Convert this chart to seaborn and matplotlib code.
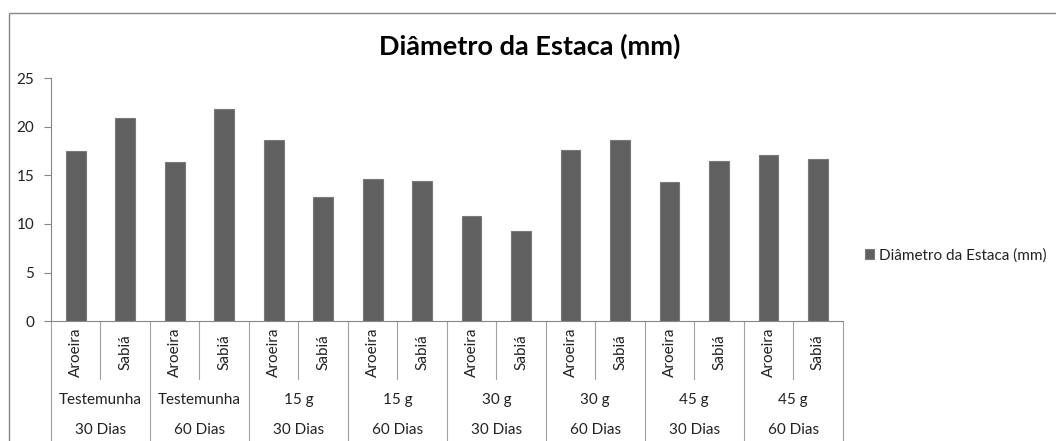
import matplotlib
matplotlib.use("Agg")
import matplotlib.pyplot as plt
import seaborn as sns
import pandas as pd
from matplotlib.patches import Rectangle
from matplotlib.transforms import blended_transform_factory

species = ["Aroeira", "Sabiá"] * 8
treatments = ["Testemunha", "Testemunha", "15 g", "15 g", "30 g", "30 g", "45 g", "45 g"]
periods = ["30 Dias", "60 Dias", "30 Dias", "60 Dias", "30 Dias", "60 Dias", "30 Dias", "60 Dias"]
values = [17.5, 20.87, 16.4, 21.83, 18.63, 12.75, 14.68, 14.43,
          10.87, 9.32, 17.63, 18.63, 14.37, 16.46, 17.15, 16.64]
yticks = [0, 5, 10, 15, 20, 25]
series_name = "Diâmetro da Estaca (mm)"

sns.set_theme(style="white")
plt.rcParams["font.family"] = ["Lato", "DejaVu Sans"]

ids = [f"{i:02d}" for i in range(len(values))]
df = pd.DataFrame({"id": ids, "valor": values, "serie": series_name})

fig = plt.figure(figsize=(10.56, 4.41), dpi=100)
ax = fig.add_axes([0.0483, 0.272, 0.7497, 0.5504])

bar_color = "#606060"
sns.barplot(data=df, x="id", y="valor", hue="serie", palette=[bar_color],
            width=0.4, ax=ax, edgecolor="#7a7a7a", linewidth=0.8, saturation=1)

lab_fs = 11
ax.set_xlim(-0.5, len(values) - 0.5)
ax.set_ylim(0, 25)
ax.set_yticks(yticks)
ax.set_yticklabels([str(t) for t in yticks], fontsize=lab_fs, color="#222222")
ax.tick_params(axis="y", length=5, width=0.8, color="#868686", pad=7, left=True)
ax.set_xticks([])
ax.set_xlabel("")
ax.set_ylabel("")
for s in ["top", "right"]:
    ax.spines[s].set_visible(False)
ax.spines["left"].set_color("#868686")
ax.spines["bottom"].set_color("#868686")
ax.spines["left"].set_linewidth(0.8)
ax.spines["bottom"].set_linewidth(0.8)

tr = blended_transform_factory(ax.transData, ax.transAxes)
line_kw = dict(color="#a0a0a0", lw=0.8, transform=tr, clip_on=False)
n = len(values)
for k in range(n + 1):
    xb = k - 0.5
    if k % 2 == 0:
        ax.plot([xb, xb], [0, -0.52], **line_kw)
    else:
        ax.plot([xb, xb], [0, -0.239], **line_kw)

for i, sp in enumerate(species):
    ax.text(i, -0.128, sp, rotation=90, ha="center", va="center",
            fontsize=lab_fs, color="#222222", transform=tr, clip_on=False)
for g, (t, p) in enumerate(zip(treatments, periods)):
    xc = 2 * g + 0.5
    ax.text(xc, -0.3255, t, ha="center", va="center", fontsize=lab_fs,
            color="#222222", transform=tr, clip_on=False)
    ax.text(xc, -0.449, p, ha="center", va="center", fontsize=lab_fs,
            color="#222222", transform=tr, clip_on=False)

fig.text(0.5015, 0.895, series_name, ha="center", va="center",
         fontsize=19.5, fontweight="bold", color="#000000")

leg = ax.legend(loc="center left", bbox_to_anchor=(1.02, 0.27), frameon=False,
                fontsize=lab_fs, handlelength=0.6, handleheight=0.6, handletextpad=0.35,
                borderaxespad=0)
for t in leg.get_texts():
    t.set_color("#222222")

fig.patches.append(Rectangle((9.3 / 1056, -0.01), 1.02, 1 - 12.7 / 441 + 0.01,
                             transform=fig.transFigure, fill=False,
                             edgecolor="#868686", lw=1.0, zorder=0))

fig.savefig("out.png", dpi=100)
